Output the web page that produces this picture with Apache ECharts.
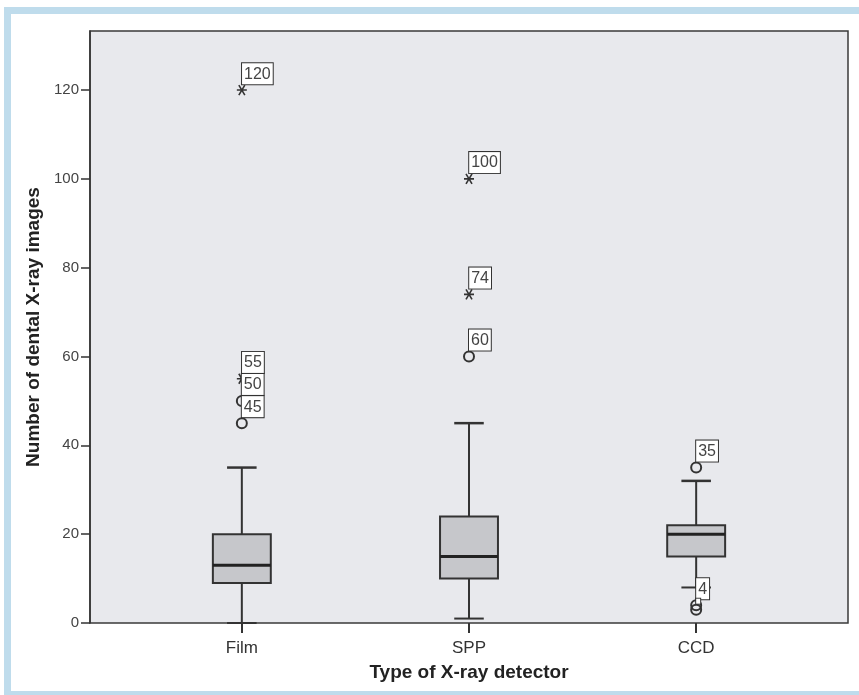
<!DOCTYPE html>
<html>
<head>
<meta charset="utf-8">
<script src="https://cdn.jsdelivr.net/npm/echarts@6/dist/echarts.min.js"></script>
<style>html,body{margin:0;padding:0;background:#fff;}#c{width:859px;height:695px;}</style>
</head>
<body>
<div id="c"></div>
<script>
// ---- data ----
const categories = ['Film', 'SPP', 'CCD'];
const whiskerLow = [0, 1, 8];
const q1 = [9, 10, 15];
const median = [13, 15, 20];
const q3 = [20, 24, 22];
const whiskerHigh = [35, 45, 32];
// outliers (circles): [categoryIndex, value, label]
const outliers = [[0, 50, '50'], [0, 45, '45'], [1, 60, '60'], [2, 35, '35'], [2, 4, '4'], [2, 3, '']];
// extremes (stars): [categoryIndex, value, label]
const extremes = [[0, 120, '120'], [0, 55, '55'], [1, 100, '100'], [1, 74, '74']];
const yTicks = [0, 20, 40, 60, 80, 100, 120];
const yMax = 133.3;

const chart = echarts.init(document.getElementById('c'));
const FONT = 'Liberation Sans, Arial, sans-serif';
const INK = '#333';

const starPath = 'path://M0,5L10,5M2,0.8L8,9.2M8,0.8L2,9.2';

const boxData = categories.map((c, i) => [i, whiskerLow[i], q1[i], median[i], q3[i], whiskerHigh[i]]);

function renderBox(params, api) {
  const i = api.value(0);
  const band = api.size([1, 0])[0];
  const bw = band * 0.255;
  const cw = band * 0.13;
  const pLow = api.coord([i, api.value(1)]);
  const pQ1 = api.coord([i, api.value(2)]);
  const pMed = api.coord([i, api.value(3)]);
  const pQ3 = api.coord([i, api.value(4)]);
  const pHigh = api.coord([i, api.value(5)]);
  const x = pMed[0];
  const ls = { stroke: INK, lineWidth: 2 };
  return {
    type: 'group',
    children: [
      { type: 'line', shape: { x1: x, y1: pQ3[1], x2: x, y2: pHigh[1] }, style: ls },
      { type: 'line', shape: { x1: x, y1: pQ1[1], x2: x, y2: pLow[1] }, style: ls },
      { type: 'line', shape: { x1: x - cw / 2, y1: pHigh[1], x2: x + cw / 2, y2: pHigh[1] }, style: { stroke: INK, lineWidth: 2.5 } },
      { type: 'line', shape: { x1: x - cw / 2, y1: pLow[1], x2: x + cw / 2, y2: pLow[1] }, style: { stroke: INK, lineWidth: 2 } },
      { type: 'rect', shape: { x: x - bw / 2, y: pQ3[1], width: bw, height: pQ1[1] - pQ3[1] }, style: { fill: '#c6c7cb', stroke: INK, lineWidth: 2 } },
      { type: 'line', shape: { x1: x - bw / 2, y1: pMed[1], x2: x + bw / 2, y2: pMed[1] }, style: { stroke: '#222', lineWidth: 3 } }
    ]
  };
}

const labelStyle = {
  show: true,
  formatter: p => p.data[2],
  position: [6, 0],
  align: 'left',
  verticalAlign: 'bottom',
  fontFamily: FONT,
  fontSize: 16,
  color: '#444',
  backgroundColor: '#fff',
  borderColor: INK,
  borderWidth: 1,
  padding: [3, 2, 2, 2]
};

const option = {
  backgroundColor: '#fff',
  animation: false,
  graphic: [{
    type: 'rect', left: 4, top: 7, z: -10,
    shape: { width: 900, height: 684 },
    style: { fill: 'none', stroke: '#bfdcec', lineWidth: 7 }
  }],
  grid: [
    { left: 90, right: 11, top: 31, bottom: 72, show: true, backgroundColor: '#e8e9ed', borderColor: '#3a3a3a', borderWidth: 1.5 },
    { left: 128.25, right: 49.25, top: 31, bottom: 72 }
  ],
  xAxis: [
    { type: 'value', gridIndex: 0, min: 0, max: 1, show: false },
    {
      type: 'category', gridIndex: 1, data: categories, boundaryGap: true,
      axisLine: { show: false },
      axisTick: { show: true, alignWithLabel: true, length: 10, lineStyle: { color: INK, width: 2 } },
      axisLabel: { fontFamily: FONT, fontSize: 17, color: '#333', margin: 17 },
      name: 'Type of X-ray detector', nameLocation: 'middle', nameGap: 40,
      nameTextStyle: { fontFamily: FONT, fontSize: 19, fontWeight: 'bold', color: '#222' }
    }
  ],
  yAxis: [
    {
      type: 'value', gridIndex: 0, min: 0, max: yMax, interval: 20,
      axisLine: { show: true, lineStyle: { color: INK, width: 1.5 } },
      axisTick: { show: true, length: 9, customValues: yTicks, lineStyle: { color: INK, width: 1.5 } },
      axisLabel: {
        fontFamily: FONT, fontSize: 15, color: '#444', margin: 11, customValues: yTicks,
        formatter: v => (yTicks.indexOf(v) >= 0 ? String(v) : '')
      },
      splitLine: { show: false },
      name: 'Number of dental X-ray images', nameLocation: 'middle', nameGap: 39, nameRotate: 90,
      nameTextStyle: { fontFamily: FONT, fontSize: 19, fontWeight: 'bold', color: '#222' }
    },
    { type: 'value', gridIndex: 1, min: 0, max: yMax, show: false, splitLine: { show: false } }
  ],
  series: [
    {
      type: 'custom', xAxisIndex: 1, yAxisIndex: 1,
      renderItem: renderBox, data: boxData, clip: false,
      encode: { x: 0, y: [1, 2, 3, 4, 5] }, z: 3
    },
    {
      type: 'scatter', xAxisIndex: 1, yAxisIndex: 1,
      data: outliers, symbol: 'circle', symbolSize: 10,
      itemStyle: { color: 'rgba(0,0,0,0)', borderColor: INK, borderWidth: 2, opacity: 1 },
      label: labelStyle, z: 4
    },
    {
      type: 'scatter', xAxisIndex: 1, yAxisIndex: 1,
      data: extremes, symbol: starPath, symbolSize: 10,
      itemStyle: { color: 'rgba(0,0,0,0)', borderColor: INK, borderWidth: 1.6, opacity: 1 },
      label: labelStyle, z: 4
    }
  ]
};
chart.setOption(option);
</script>
</body>
</html>
